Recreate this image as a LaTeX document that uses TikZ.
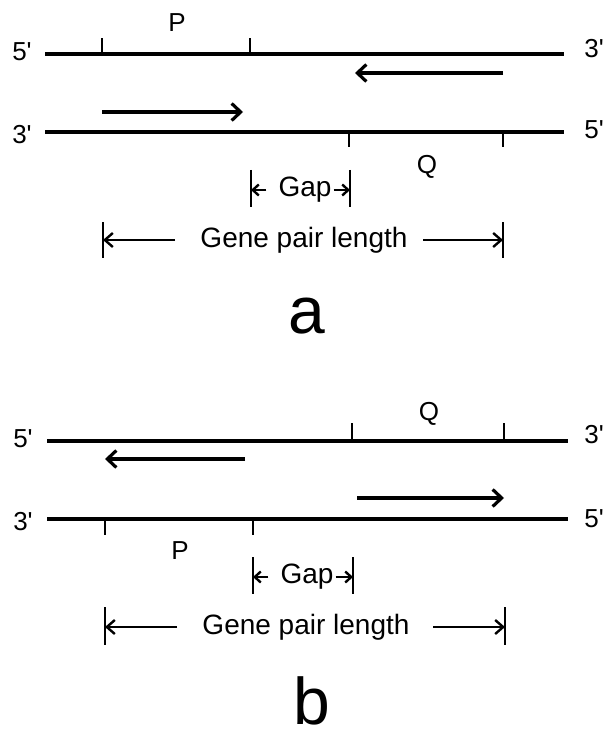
\documentclass[tikz,border=0pt]{standalone}
\usepackage{fontspec}
\setmainfont{Liberation Sans}[Ligatures=TeXOff]
\usetikzlibrary{arrows.meta}
\begin{document}
\begin{tikzpicture}[x=1pt,y=-1pt,
  strand/.style={line width=3.3pt},
  tick/.style={line width=2.8pt},
  dir/.style={line width=3.2pt,-{Straight Barb[length=9pt,width=17pt]}},
  gaparr/.style={line width=2.4pt,-{Straight Barb[length=6pt,width=11pt]}},
  lenarr/.style={line width=2.4pt,-{Straight Barb[length=8pt,width=14pt]}},
  bar/.style={line width=2.8pt},
  lab/.style={font=\fontsize{26}{30}\selectfont, inner sep=0pt},
  txt/.style={font=\fontsize{28}{32}\selectfont, inner sep=0pt},
  big/.style={font=\fontsize{66}{70}\selectfont, inner sep=0pt, anchor=base}]
\useasboundingbox (0,0) rectangle (606,738);

%%%%%%%% panel a
\coordinate (aTL) at (45,54);  \coordinate (aTR) at (564,54);
\coordinate (aBL) at (45,132); \coordinate (aBR) at (564,132);
\draw[strand] (aTL) -- (aTR);
\draw[strand] (aBL) -- (aBR);
\coordinate (aT1) at (102,54); \coordinate (aT1u) at (102,38);
\coordinate (aT2) at (250,54); \coordinate (aT2u) at (250,38);
\draw[tick] (aT1) -- (aT1u);
\draw[tick] (aT2) -- (aT2u);
\coordinate (aB1) at (349,132); \coordinate (aB1d) at (349,147);
\coordinate (aB2) at (503,132); \coordinate (aB2d) at (503,147);
\draw[tick] (aB1) -- (aB1d);
\draw[tick] (aB2) -- (aB2d);
\node[lab] (a5l) at (22,52) {5'};
\node[lab] (a3r) at (594,49) {3'};
\node[lab] (a3l) at (22,135) {3'};
\node[lab] (a5r) at (594,130) {5'};
\node[lab] (aP) at (177,23) {P};
\node[lab] (aQ) at (427,167) {Q};
\coordinate (aA1s) at (503,73); \coordinate (aA1e) at (355,73);
\draw[dir] (aA1s) -- (aA1e);
\coordinate (aA2s) at (102,112); \coordinate (aA2e) at (243,112);
\draw[dir] (aA2s) -- (aA2e);
% gap
\coordinate (aG1t) at (251,170); \coordinate (aG1b) at (251,207);
\coordinate (aG2t) at (350,170); \coordinate (aG2b) at (350,207);
\draw[bar] (aG1t) -- (aG1b);
\draw[bar] (aG2t) -- (aG2b);
\node[txt] (aGap) at (305,190) {Gap};
\coordinate (aGl) at (251,190); \coordinate (aGr) at (350,190);
\draw[gaparr] ([xshift=-12pt]aGap.west) -- (aGl);
\draw[gaparr] ([xshift=2pt]aGap.east) -- (aGr);
% gene pair length
\coordinate (aL1t) at (103,222); \coordinate (aL1b) at (103,258);
\coordinate (aL2t) at (503,222); \coordinate (aL2b) at (503,258);
\draw[bar] (aL1t) -- (aL1b);
\draw[bar] (aL2t) -- (aL2b);
\node[txt] (aLen) at (304,240) {Gene pair length};
\coordinate (aLl) at (103,240); \coordinate (aLr) at (503,240);
\coordinate (aLls) at (175,240); \coordinate (aLrs) at (423,240);
\draw[lenarr] (aLls) -- (aLl);
\draw[lenarr] (aLrs) -- (aLr);
\node[big] (aLab) at (307,333) {a};

%%%%%%%% panel b
\coordinate (bTL) at (47,441);  \coordinate (bTR) at (568,441);
\coordinate (bBL) at (47,519); \coordinate (bBR) at (568,519);
\draw[strand] (bTL) -- (bTR);
\draw[strand] (bBL) -- (bBR);
\coordinate (bT1) at (352,441); \coordinate (bT1u) at (352,423);
\coordinate (bT2) at (504,441); \coordinate (bT2u) at (504,423);
\draw[tick] (bT1) -- (bT1u);
\draw[tick] (bT2) -- (bT2u);
\coordinate (bB1) at (105,519); \coordinate (bB1d) at (105,535);
\coordinate (bB2) at (253,519); \coordinate (bB2d) at (253,535);
\draw[tick] (bB1) -- (bB1d);
\draw[tick] (bB2) -- (bB2d);
\node[lab] (b5l) at (23,439) {5'};
\node[lab] (b3r) at (594,435) {3'};
\node[lab] (b3l) at (23,522) {3'};
\node[lab] (b5r) at (594,519) {5'};
\node[lab] (bQ) at (429,414) {Q};
\node[lab] (bP) at (180,551) {P};
\coordinate (bA1s) at (245,459); \coordinate (bA1e) at (105,459);
\draw[dir] (bA1s) -- (bA1e);
\coordinate (bA2s) at (357,498); \coordinate (bA2e) at (504,498);
\draw[dir] (bA2s) -- (bA2e);
% gap
\coordinate (bG1t) at (253,557); \coordinate (bG1b) at (253,594);
\coordinate (bG2t) at (353,557); \coordinate (bG2b) at (353,594);
\draw[bar] (bG1t) -- (bG1b);
\draw[bar] (bG2t) -- (bG2b);
\node[txt] (bGap) at (307,577) {Gap};
\coordinate (bGl) at (253,577); \coordinate (bGr) at (353,577);
\draw[gaparr] ([xshift=-12pt]bGap.west) -- (bGl);
\draw[gaparr] ([xshift=2pt]bGap.east) -- (bGr);
% gene pair length
\coordinate (bL1t) at (105,607); \coordinate (bL1b) at (105,645);
\coordinate (bL2t) at (505,607); \coordinate (bL2b) at (505,645);
\draw[bar] (bL1t) -- (bL1b);
\draw[bar] (bL2t) -- (bL2b);
\node[txt] (bLen) at (306,627) {Gene pair length};
\coordinate (bLl) at (105,627); \coordinate (bLr) at (505,627);
\coordinate (bLls) at (177,627); \coordinate (bLrs) at (433,627);
\draw[lenarr] (bLls) -- (bLl);
\draw[lenarr] (bLrs) -- (bLr);
\node[big] (bLab) at (312,724) {b};
\end{tikzpicture}
\end{document}
